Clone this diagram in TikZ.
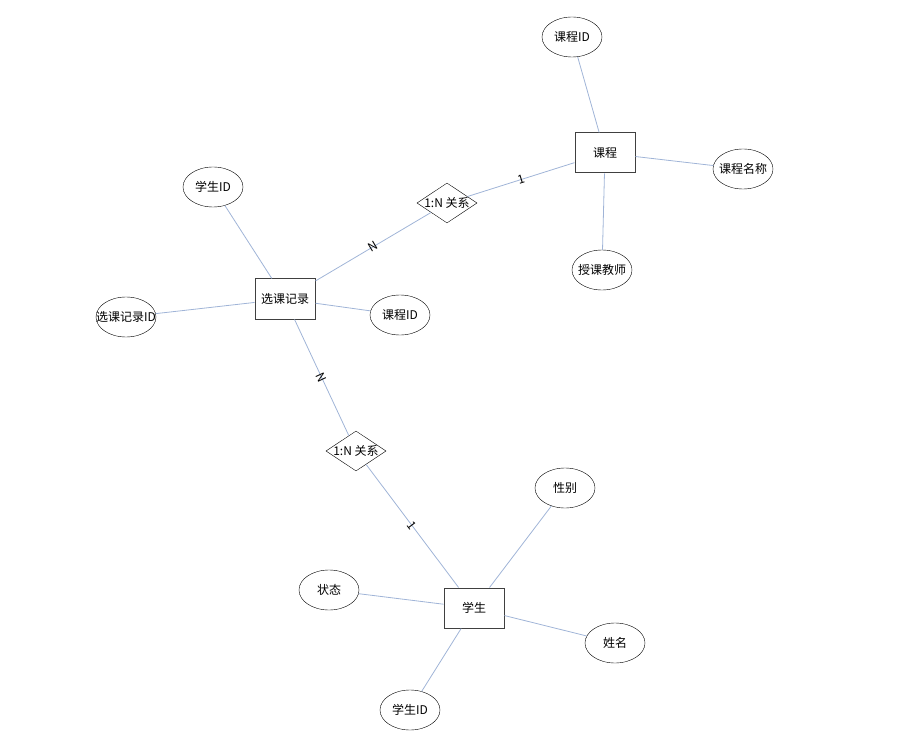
\documentclass[tikz,border=0pt]{standalone}
\usepackage{fontspec}
\setmainfont{Noto Sans CJK SC}
\usepackage{xcolor}
\usetikzlibrary{shapes.geometric}
\definecolor{linkblue}{RGB}{160,180,215}

\begin{document}
\begin{tikzpicture}[x=1pt,y=-1pt,font=\fontsize{12}{14}\selectfont,
    entity/.style={draw=black!75,line width=1pt,fill=white,minimum width=60pt,minimum height=40pt,inner sep=0pt},
    attr/.style={draw,ellipse,fill=white,minimum width=60pt,minimum height=40pt,inner sep=0pt},
    rel/.style={draw,diamond,fill=white,shape aspect=1.5,minimum width=60pt,minimum height=40pt,inner sep=0pt},
    link/.style={draw=linkblue,line width=0.8pt},
    card/.style={sloped,inner sep=1pt}]
    \useasboundingbox (0,0) rectangle (916,754);
    % entities
    \node[entity] (kc) at (605,153) {课程};
    \node[entity] (xk) at (285,299) {选课记录};
    \node[entity] (xs) at (474,608) {学生};
    % relations
    \node[rel] (r1) at (447,203) {\makebox[0pt]{1:N 关系}};
    \node[rel] (r2) at (356,451) {\makebox[0pt]{1:N 关系}};
    % attributes
    \node[attr] (kcid) at (572,37) {课程ID};
    \node[attr] (kcmc) at (743,169) {\makebox[0pt]{课程名称}};
    \node[attr] (skjs) at (602,270) {\makebox[0pt]{授课教师}};
    \node[attr] (xkxs) at (213,187) {学生ID};
    \node[attr] (xkid) at (126,317) {\makebox[0pt]{选课记录ID}};
    \node[attr] (xkkc) at (400,315) {课程ID};
    \node[attr] (xb) at (565,488) {性别};
    \node[attr] (zt) at (329,590) {状态};
    \node[attr] (xm) at (615,643) {姓名};
    \node[attr] (xsid) at (410,710) {学生ID};

    \draw[link] (kc) -- node[card] {1} (r1);
    \draw[link] (r1) -- node[card] {N} (xk);
    \draw[link] (xk) -- node[card] {N} (r2);
    \draw[link] (r2) -- node[card] {1} (xs);
    \foreach \a in {kcid,kcmc,skjs}
        \draw[link] (kc) -- (\a);
    \foreach \a in {xkxs,xkid,xkkc}
        \draw[link] (xk) -- (\a);
    \foreach \a in {xb,zt,xm,xsid}
        \draw[link] (xs) -- (\a);
\end{tikzpicture}
\end{document}
